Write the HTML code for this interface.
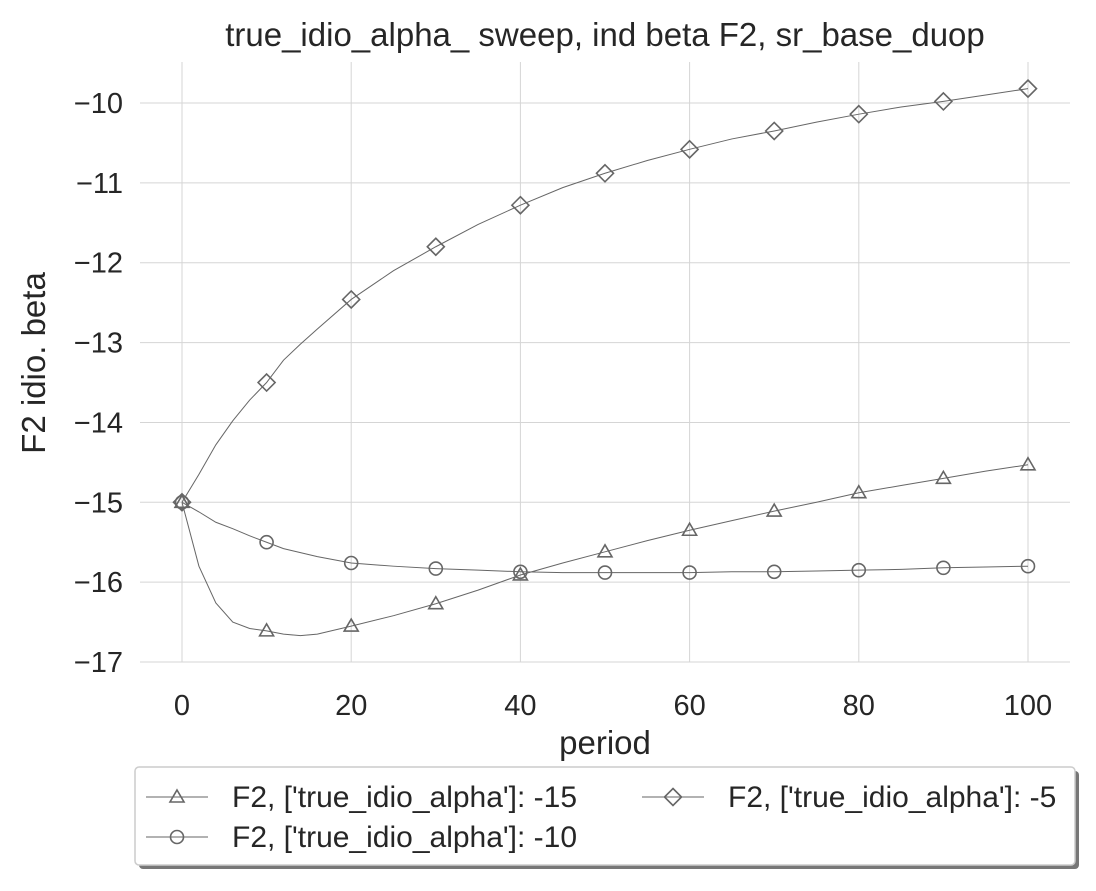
<!DOCTYPE html>
<html><head><meta charset="utf-8"><style>
body{margin:0;background:#fff;}
svg text{font-family:"Liberation Sans",Arial,sans-serif;fill:#262626;}
</style></head><body>
<svg id="chart" width="1096" height="886" xmlns="http://www.w3.org/2000/svg">
<text x="605" y="46" font-size="33" text-anchor="middle">true_idio_alpha_ sweep, ind beta F2, sr_base_duop</text>
<g id="grid"></g><g id="series"></g><g id="axes"></g>
<text x="605" y="754" font-size="33" text-anchor="middle">period</text>
<text x="0" y="0" font-size="33" text-anchor="middle" transform="translate(45,363) rotate(-90)">F2 idio. beta</text>
<g>
<rect x="139" y="771" width="940" height="98" rx="4" fill="#777"/>
<rect x="135" y="767" width="940" height="98" rx="4" fill="#fff" stroke="#ccc" stroke-width="1.5"/>
<g id="legend"></g>
</g>
</svg>
<script>
const categories=[0,2,4,6,8,10,12,14,16,20,25,30,35,40,45,50,55,60,65,70,75,80,85,90,95,100];
const s15=[-15,-15.8,-16.26,-16.5,-16.58,-16.61,-16.65,-16.67,-16.65,-16.55,-16.42,-16.27,-16.1,-15.91,-15.76,-15.62,-15.48,-15.35,-15.23,-15.11,-15.0,-14.88,-14.79,-14.7,-14.61,-14.53];
const s10=[-15,-15.12,-15.25,-15.33,-15.42,-15.5,-15.58,-15.63,-15.68,-15.76,-15.8,-15.83,-15.85,-15.87,-15.88,-15.88,-15.88,-15.88,-15.87,-15.87,-15.86,-15.85,-15.84,-15.82,-15.81,-15.8];
const s5=[-15,-14.65,-14.28,-13.98,-13.72,-13.5,-13.22,-13.02,-12.83,-12.46,-12.1,-11.8,-11.52,-11.28,-11.06,-10.88,-10.72,-10.58,-10.45,-10.35,-10.24,-10.14,-10.05,-9.98,-9.9,-9.82];
const xTicks=[0,20,40,60,80,100];
const yTicks=[-10,-11,-12,-13,-14,-15,-16,-17];
const seriesNames=["F2, ['true_idio_alpha']: -15","F2, ['true_idio_alpha']: -10","F2, ['true_idio_alpha']: -5"];
const NS="http://www.w3.org/2000/svg";
const X=v=>182+v*8.46, Y=v=>103+(-10-v)*79.86;
function mk(t,a,p){const e=document.createElementNS(NS,t);for(const k in a)e.setAttribute(k,a[k]);p.appendChild(e);return e;}
const grid=document.getElementById('grid'),axes=document.getElementById('axes'),ser=document.getElementById('series');
yTicks.forEach(v=>{
 const l=mk('line',{x1:140,x2:1070,y1:Y(v),y2:Y(v),stroke:'#d5d5d5','stroke-width':1},grid);
 
 
 const t=mk('text',{x:123,y:Y(v)+10,'font-size':29,'text-anchor':'end'},axes);t.textContent='\u2212'+Math.abs(v);
 
 
});
xTicks.forEach(v=>{
 const l=mk('line',{x1:X(v),x2:X(v),y1:62,y2:662,stroke:'#d5d5d5','stroke-width':1},grid);
 
 
 const t=mk('text',{x:X(v),y:715,'font-size':29,'text-anchor':'middle'},axes);t.textContent=v;
 
 
});
function marker(type,x,y,p){
 if(type==='tri')return mk('path',{d:`M${x},${y-7}L${x+7},${y+5}L${x-7},${y+5}Z`,fill:'none',stroke:'#666','stroke-width':1.6},p);
 if(type==='circ')return mk('circle',{cx:x,cy:y,r:6.5,fill:'none',stroke:'#666','stroke-width':1.6},p);
 return mk('path',{d:`M${x},${y-8.5}L${x+8.5},${y}L${x},${y+8.5}L${x-8.5},${y}Z`,fill:'none',stroke:'#666','stroke-width':1.6},p);
}
const all=[[s15,'tri'],[s10,'circ'],[s5,'dia']];
all.forEach(([d,m],i)=>{
 const g=mk('g',{},ser);
 
 
 const pl=mk('polyline',{points:categories.map((c,j)=>X(c)+','+Y(d[j])).join(' '),fill:'none',stroke:'#666','stroke-width':1},g);
 
 
 categories.forEach((c,j)=>{if(c%10===0){const e=marker(m,X(c),Y(d[j]),g);
  
  }});
});
const lg=document.getElementById('legend');
const lpos=[[146,797,'tri'],[146,837,'circ'],[642,797,'dia']];
lpos.forEach(([x,y,m],i)=>{
 const g=mk('g',{},lg);
 
 
 mk('line',{x1:x,x2:x+62,y1:y,y2:y,stroke:'#666','stroke-width':1},g);
 marker(m,x+31,y,g);
 const t=mk('text',{x:x+86,y:y+10,'font-size':30},g);t.textContent=seriesNames[i];
});
</script>
</body></html>
